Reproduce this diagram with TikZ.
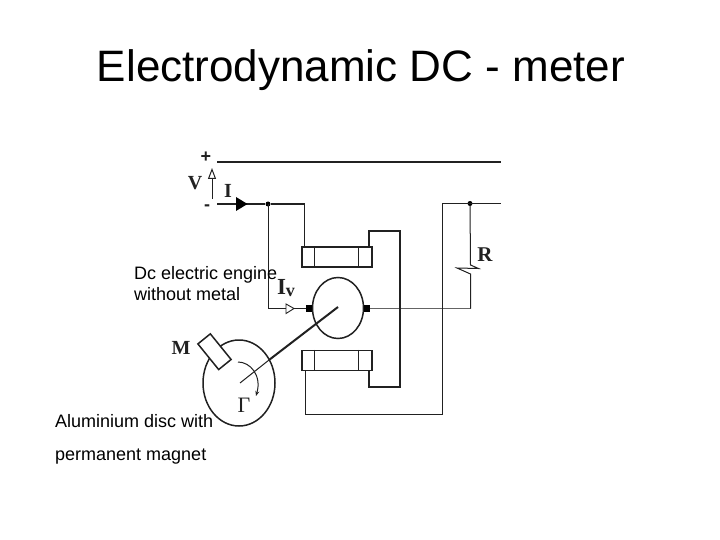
\documentclass[tikz,border=0pt]{standalone}
\usepackage{fontspec}
\setmainfont{Liberation Sans}
\newfontfamily\labelserif{Liberation Serif}
\usetikzlibrary{shapes.geometric,arrows.meta,calc}
\definecolor{ink}{gray}{0.13}
\tikzset{
  wire/.style={draw=ink,line width=1pt},
  heavy/.style={draw=ink,line width=1.5pt},
  coil/.style={draw=ink,line width=1.3pt,fill=white,minimum width=70pt,minimum height=20pt,inner sep=0pt},
  rotor/.style={ellipse,draw=ink,line width=1.5pt,inner sep=0pt},
  term/.style={fill=black,minimum width=6pt,minimum height=7pt,inner sep=0pt},
  junction/.style={circle,fill=black,minimum size=5pt,inner sep=0pt},
  sym/.style={font=\labelserif\bfseries\fontsize{20}{20}\selectfont,text=ink,inner sep=0pt},
  note/.style={font=\fontsize{18}{21}\selectfont,text=black,anchor=base west,inner sep=0pt},
}
\begin{document}
\begin{tikzpicture}[x=1pt,y=-1pt]
\useasboundingbox (0,0) rectangle (720,540);
\fill[white] (0,0) rectangle (720,540);
\node[font=\fontsize{44}{44}\selectfont,inner sep=0pt,anchor=base] (title) at (361,82) {Electrodynamic DC - meter};
% terminals and free ends
\coordinate (plusL) at (217,162);
\coordinate (plusR) at (501,162);
\coordinate (minusL) at (217,204);
\coordinate (minusM) at (304.5,204);
\coordinate (rightR) at (501,203.5);
\coordinate (rightL) at (442.5,203.5);
\coordinate (vTail) at (212,199);
\coordinate (vHead) at (212,168);
% components
\node[coil] (ucoil) at (337,257) {};
\node[coil] (lcoil) at (337,360.5) {};
\node[rotor,minimum width=51pt,minimum height=61pt] (motor) at (338,308) {};
\node[rotor,minimum width=72pt,minimum height=86pt] (disc) at (239,383) {};
\node[draw=ink,line width=1.5pt,fill=white,minimum width=33pt,minimum height=16pt,inner sep=0pt,rotate=-51] (magnet) at (214.5,351.7) {};
\node[term] (tl) at (309,308.5) {};
\node[term] (tr) at (367,308.5) {};
\node[junction] (j1) at (268,204) {};
\node[junction] (j2) at (470,203.5) {};
\coordinate (rTop) at (470.5,265);
\coordinate (z1) at (478.5,268.5);
\coordinate (z2) at (457,268);
\coordinate (z3) at (470.5,274);
\coordinate (rBot) at (470.5,308.5);
\coordinate (shaftTop) at (338,307);
\coordinate (discHit) at (269,360);
\coordinate (discC) at (240,383);
% coil dividers
\foreach \c in {ucoil,lcoil}{
  \draw[wire] ([xshift=13pt]\c.north west) -- ([xshift=13pt]\c.south west);
  \draw[wire] ([xshift=-14pt]\c.north east) -- ([xshift=-14pt]\c.south east);
}
% wires
\draw[heavy] (plusL) -- (plusR);
\draw[heavy] (minusL) -- (j1) -- (minusM);
\draw[wire] (minusM) -- (minusM |- ucoil.north);
\draw[wire] (268.5,204) |- (tl);
\draw[wire,draw=ink!70] (tr) -- (rBot);
\draw[heavy] (369,247) -- (369,231) -- (400,231) -- (400,387) -- (369,387) -- (369,370.5);
\draw[wire] (305.5,370.5) -- (305.5,414.5) -- (442.5,414.5) -- (rightL);
\draw[heavy] (rightL) -- (rightR);
\draw[wire] (j2) -- (rTop) -- (z1) -- (z2) -- (z3) -- (rBot);
% arrows
\draw[wire,-{Stealth[open,length=11pt,width=8pt,inset=0pt]}] (vTail) -- (vHead);
\fill[black] (236,197) -- (247.5,204) -- (236,211) -- cycle;
\fill[white,draw=ink,line width=0.9pt] (286,304) -- (294,308.5) -- (286,313.5) -- cycle;
% shaft
\draw[draw=ink,line width=2pt] (shaftTop) -- (discHit);
\draw[draw=ink,line width=1pt] (discHit) -- (discC);
\draw[draw=ink,line width=1pt,-{Stealth[length=5pt,width=4pt]}] (238,362) .. controls (250,362) and (262,375) .. (256,396);
% labels
\node[sym,font=\bfseries\fontsize{18}{18}\selectfont] (lplus) at (206,157) {+};
\node[sym,font=\bfseries\fontsize{18}{18}\selectfont] (lminus) at (207,208) {-};
\node[sym] (lV) at (195,183) {V};
\node[sym] (lI) at (228,191) {I};
\node[sym,font=\labelserif\bfseries\fontsize{23}{23}\selectfont] (lIv) at (286,288) {I\raisebox{-2pt}{\fontsize{18}{18}\selectfont v}};
\node[sym,font=\labelserif\bfseries\fontsize{21}{21}\selectfont] (lR) at (485,255) {R};
\node[sym] (lM) at (181,348) {M};
\node[sym,font=\labelserif\fontsize{22}{22}\selectfont] (lG) at (244,405) {Γ};
\node[note] (n1) at (134,279) {Dc electric engine};
\node[note] (n1b) at (134,300) {without metal};
\node[note] (n2) at (55,427) {Aluminium disc with};
\node[note] (n3) at (55,460) {permanent magnet};
\end{tikzpicture}
\end{document}
